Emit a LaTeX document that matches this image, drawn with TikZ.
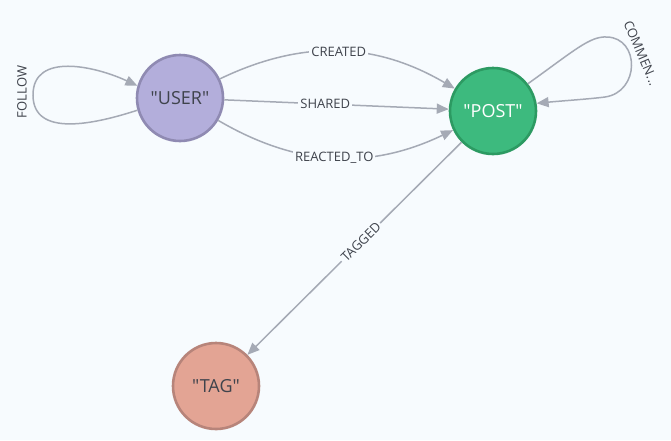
\documentclass[tikz,border=0pt]{standalone}
\usepackage{fontspec}
\setmainfont{Open Sans}[Ligatures=TeXOff]
\usetikzlibrary{arrows.meta}
\definecolor{bg}{HTML}{F7FBFE}
\definecolor{edge}{HTML}{A5AAB5}
\definecolor{lbl}{HTML}{3F434C}
\definecolor{userfill}{HTML}{B3AEDB}
\definecolor{userline}{HTML}{8F8AB2}
\definecolor{postfill}{HTML}{3DBA7E}
\definecolor{postline}{HTML}{2C9A62}
\definecolor{tagfill}{HTML}{E3A494}
\definecolor{tagline}{HTML}{B7847A}
\tikzset{
  gnode/.style={circle, minimum size=86pt, line width=2.6pt, inner sep=0pt,
    font=\fontsize{18}{20}\selectfont},
  rel/.style={draw=edge, line width=1.5pt, -{Triangle[length=12pt,width=10pt]}},
  rlabel/.style={fill=bg, inner sep=2pt, text=lbl, font=\fontsize{13}{15}\selectfont}
}
\begin{document}
\begin{tikzpicture}[x=1pt,y=-1pt]
\fill[bg] (0,0) rectangle (671,440);
\useasboundingbox (0,0) rectangle (671,440);
\node[gnode, fill=userfill, draw=userline, text=lbl] (user) at (180,98) {"USER"};
\node[gnode, fill=postfill, draw=postline, text=white] (post) at (493,111) {"POST"};
\node[gnode, fill=tagfill, draw=tagline, text=lbl] (tag) at (216,386) {"TAG"};
% FOLLOW loop
\draw[rel] (user.196) .. controls (95,124) and (33,138) .. (33,95)
  .. controls (33,52) and (95,66) .. (user.164);
\node[rlabel, rotate=90, fill=none] (lfollow) at (22,92) {FOLLOW};
% CREATED / SHARED / REACTED_TO
\draw[rel] (user) to[bend left=28] node[rlabel] (lcreated) {CREATED} (post);
\draw[rel] (user) -- node[rlabel, pos=0.45] (lshared) {SHARED} (post);
\draw[rel] (user) to[bend right=28] node[rlabel] (lreacted) {REACTED\_TO} (post);
% COMMENTED loop
\draw[rel] (post.38) .. controls (575,50) and (590,36) .. (607,37)
  .. controls (640,38) and (640,92) .. (605,97)
  .. controls (590,99) and (560,101) .. (post.10);
\node[rlabel, rotate=-67, fill=none] (lcomm) at (641,53) {COMMEN...};
% TAGGED
\draw[rel] (post) -- node[rlabel, sloped, pos=0.47] (ltagged) {TAGGED} (tag);
\end{tikzpicture}
\end{document}
